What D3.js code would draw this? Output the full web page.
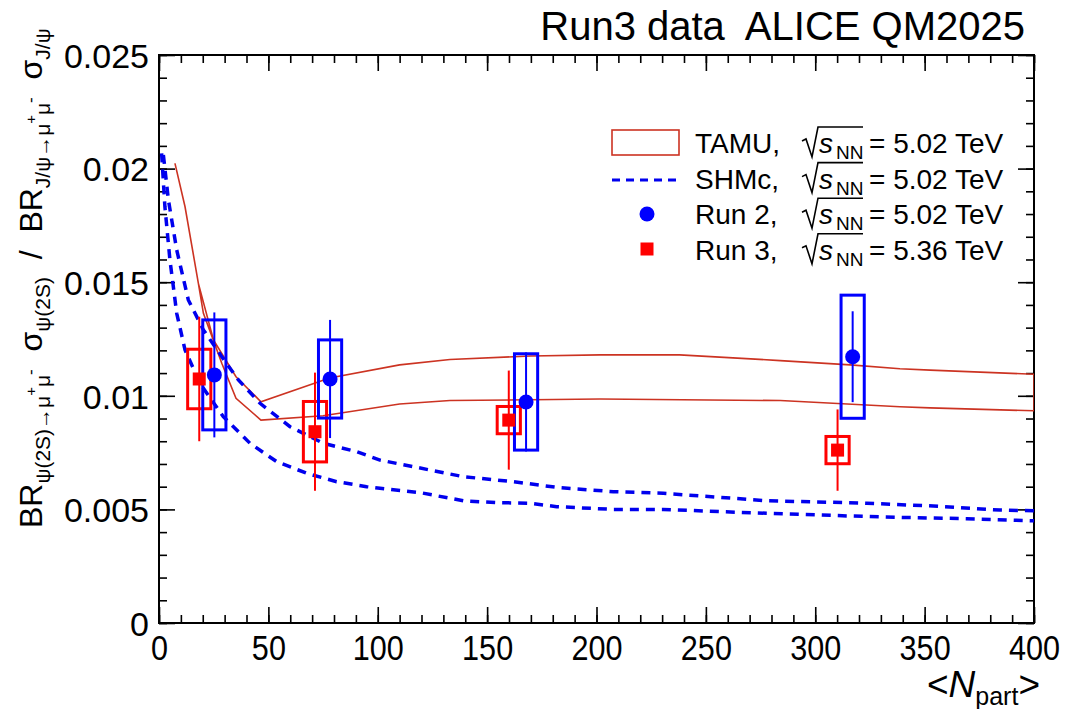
<!DOCTYPE html>
<html lang="en">

<head>
	<meta charset="UTF-8">
	<title>psi(2S) to J/psi ratio vs Npart</title>
	<style type="text/css">
		body { margin: 0; background: #fff; }
		svg text { font-family: "Liberation Sans", Arial, sans-serif; fill: #000; }
	</style>
</head>

<body>
	<div id="chart"></div>

	<script src="https://d3js.org/d3.v7.min.js"></script>
	<script>
		// values
		var npartRun2 = [25.3, 78.2, 167.8, 317.1];
		var ratioRun2 = [0.01092, 0.01074, 0.00973, 0.01172];
		var statRun2 = [0.00275, 0.0026, 0.00218, 0.002];
		var systRun2 = [0.00242, 0.00172, 0.00212, 0.00271];

		var npartRun3 = [18.4, 71.3, 159.9, 310.2];
		var ratioRun3 = [0.01074, 0.00842, 0.00893, 0.00761];
		var statRun3 = [0.00274, 0.0026, 0.00218, 0.00179];
		var systRun3 = [0.00131, 0.00133, 0.0006, 0.0006];

		// TAMU band edges
		var tamuHighNpart = [7.3, 11.9, 18.0, 24.9, 35.2, 46.6, 78, 110, 133, 170, 201.6, 238, 284, 316, 338.7, 352.5, 400];
		var tamuHigh = [0.02023, 0.01832, 0.01495, 0.01246, 0.01084, 0.00974, 0.01078, 0.01136, 0.0116, 0.01175, 0.0118, 0.0118, 0.01155, 0.01136, 0.01119, 0.01113, 0.01095];
		var tamuLowNpart = [7.3, 11.9, 18.0, 20.3, 28.7, 35.2, 46.6, 75, 110, 133, 201.6, 284, 338.7, 352.5, 400];
		var tamuLow = [0.02023, 0.01832, 0.01495, 0.01363, 0.01143, 0.00989, 0.00893, 0.00912, 0.00964, 0.00979, 0.00986, 0.00979, 0.00952, 0.00947, 0.00934];

		// SHMc edges
		var shmcHighNpart = [2.0, 4.3, 8.1, 13.4, 20.3, 28.7, 36.3, 46.2, 59.9, 75.1, 90.4, 101, 116.3, 139.1, 162, 181.8, 207.7, 230.5, 256.5, 277.8, 308.3, 323.5, 354, 384.5, 400];
		var shmcHigh = [0.0206, 0.01862, 0.01642, 0.01422, 0.0129, 0.01172, 0.0107, 0.00967, 0.00864, 0.00791, 0.00754, 0.00717, 0.00688, 0.00644, 0.00622, 0.00597, 0.00578, 0.00571, 0.00553, 0.00538, 0.00531, 0.00527, 0.00515, 0.00497, 0.00494];
		var shmcLowNpart = [1.2, 2.7, 5.0, 8.1, 11.9, 18.7, 29.4, 41.6, 53.8, 67.5, 81.2, 94.9, 101, 119.3, 139.1, 154.4, 169.6, 181.8, 207.7, 230.5, 256.5, 277.8, 315.9, 338.7, 369.2, 400];
		var shmcLow = [0.02067, 0.01832, 0.01598, 0.01363, 0.01202, 0.01055, 0.00908, 0.00791, 0.0071, 0.00659, 0.00622, 0.006, 0.00593, 0.00574, 0.00538, 0.0053, 0.00527, 0.00512, 0.005, 0.005, 0.0049, 0.00483, 0.00471, 0.00465, 0.00459, 0.0045];

		var xTicks = [0, 50, 100, 150, 200, 250, 300, 350, 400];
		var yTicks = [0, 0.005, 0.01, 0.015, 0.02, 0.025];
		var yTickLabels = ['0', '0.005', '0.01', '0.015', '0.02', '0.025'];

		var legendNames = ['TAMU,', 'SHMc,', 'Run 2,', 'Run 3,'];
		var legendEnergies = ['5.02', '5.02', '5.02', '5.36'];

		var margin = { top: 55, right: 31, bottom: 86, left: 159 };
		var width = 1065 - margin.left - margin.right;
		var height = 709 - margin.top - margin.bottom;
		var boxHalf = 5.3; // syst box half width in Npart units

		var xScale = d3.scaleLinear()
			.domain([0, 400])
			.range([0, width]);

		var yScale = d3.scaleLinear()
			.domain([0, 0.025])
			.range([height, 0]);

		var root = d3.select('#chart')
			.append('svg')
			.attr('width', 1065)
			.attr('height', 709);

		var svg = root.append('g')
			.attr('transform', `translate(${margin.left}, ${margin.top})`);

		svg.append('clipPath')
			.attr('id', 'frame')
			.append('rect')
			.attr('width', width)
			.attr('height', height);

		// axes, ROOT style ticks inside the frame
		function ticks(g, axis, size) {
			g.call(axis.tickSize(size).tickSizeOuter(0));
			g.select('.domain').remove();
			g.selectAll('line').attr('stroke', '#000').attr('stroke-width', 1.6);
		}

		svg.append('g')
			.attr('transform', `translate(0, ${height})`)
			.call(ticks, d3.axisBottom(xScale).tickValues(d3.range(0, 401, 10)).tickFormat(''), -8);
		svg.append('g')
			.attr('class', 'x axis')
			.attr('transform', `translate(0, ${height})`)
			.call(ticks, d3.axisBottom(xScale).tickValues(xTicks).tickFormat(d3.format('d')).tickPadding(11), -16);
		svg.append('g')
			.call(ticks, d3.axisTop(xScale).tickValues(d3.range(0, 401, 10)).tickFormat(''), -8);
		svg.append('g')
			.call(ticks, d3.axisTop(xScale).tickValues(xTicks).tickFormat(''), -16);

		svg.append('g')
			.call(ticks, d3.axisLeft(yScale).tickValues(d3.range(0, 26).map(i => i / 1000)).tickFormat(''), -8);
		svg.append('g')
			.attr('class', 'y axis')
			.call(ticks, d3.axisLeft(yScale).tickValues(yTicks).tickFormat((d, i) => yTickLabels[i]).tickPadding(10), -16);
		svg.append('g')
			.attr('transform', `translate(${width}, 0)`)
			.call(ticks, d3.axisRight(yScale).tickValues(d3.range(0, 26).map(i => i / 1000)).tickFormat(''), -8);
		svg.append('g')
			.attr('transform', `translate(${width}, 0)`)
			.call(ticks, d3.axisRight(yScale).tickValues(yTicks).tickFormat(''), -16);

		// x tick labels in the figure are narrow
		svg.selectAll('.x.axis text')
			.attr('font-family', null)
			.attr('transform', 'scale(0.85, 1)')
			.style('font-size', '36px');
		svg.selectAll('.y.axis text')
			.attr('font-family', null)
			.attr('dy', '0.36em')
			.style('font-size', '34px');

		svg.append('rect')
			.attr('width', width)
			.attr('height', height)
			.attr('fill', 'none')
			.attr('stroke', '#000')
			.attr('stroke-width', 2);

		var lineGen = d3.line()
			.x((d) => xScale(d[0]))
			.y((d) => yScale(d[1]));

		var plot = svg.append('g').attr('clip-path', 'url(#frame)');

		// TAMU band as closed outline
		var band = d3.zip(tamuHighNpart, tamuHigh).concat(d3.zip(tamuLowNpart, tamuLow).reverse());
		plot.append('path')
			.attr('d', lineGen(band) + 'Z')
			.attr('fill', 'none')
			.attr('stroke', '#cc3322')
			.attr('stroke-width', 1.6);

		[[shmcHighNpart, shmcHigh], [shmcLowNpart, shmcLow]].forEach((c) => {
			plot.append('path')
				.datum(d3.zip(c[0], c[1]))
				.attr('d', lineGen)
				.attr('fill', 'none')
				.attr('stroke', '#0000ee')
				.attr('stroke-width', 3.5)
				.style('stroke-dasharray', '9,7');
		});

		// data points with stat bars and syst boxes
		function drawSet(npart, ratio, stat, syst, color) {
			npart.forEach((n, i) => {
				var v = ratio[i];
				plot.append('line')
					.attr('x1', xScale(n)).attr('x2', xScale(n))
					.attr('y1', yScale(v - stat[i])).attr('y2', yScale(v + stat[i]))
					.attr('stroke', color)
					.attr('stroke-width', 2);
				plot.append('rect')
					.attr('x', xScale(n - boxHalf))
					.attr('width', xScale(n + boxHalf) - xScale(n - boxHalf))
					.attr('y', yScale(v + syst[i]))
					.attr('height', yScale(v - syst[i]) - yScale(v + syst[i]))
					.attr('fill', 'none')
					.attr('stroke', color)
					.attr('stroke-width', 3);
			});
		}
		drawSet(npartRun3, ratioRun3, statRun3, systRun3, '#ff0000');
		drawSet(npartRun2, ratioRun2, statRun2, systRun2, '#0000ff');

		plot.selectAll('.run3')
			.data(d3.zip(npartRun3, ratioRun3))
			.join('rect')
			.attr('class', 'run3')
			.attr('x', (d) => xScale(d[0]) - 6.5)
			.attr('y', (d) => yScale(d[1]) - 6.5)
			.attr('width', 13)
			.attr('height', 13)
			.attr('fill', '#ff0000');

		plot.selectAll('.run2')
			.data(d3.zip(npartRun2, ratioRun2))
			.join('circle')
			.attr('class', 'run2')
			.attr('cx', (d) => xScale(d[0]))
			.attr('cy', (d) => yScale(d[1]))
			.attr('r', 7.5)
			.attr('fill', '#0000ff');

		// legend
		var legend = root.append('g');
		legend.append('rect')
			.attr('x', 612).attr('y', 130).attr('width', 67).attr('height', 25)
			.attr('fill', 'none').attr('stroke', '#cc3322').attr('stroke-width', 1.6);
		legend.append('line')
			.attr('x1', 612).attr('x2', 678).attr('y1', 180).attr('y2', 180)
			.attr('stroke', '#0000ee').attr('stroke-width', 3).style('stroke-dasharray', '8,6');
		legend.append('circle')
			.attr('cx', 647).attr('cy', 214).attr('r', 7.5).attr('fill', '#0000ff');
		legend.append('rect')
			.attr('x', 640.5).attr('y', 242.5).attr('width', 13).attr('height', 13).attr('fill', '#ff0000');

		legendNames.forEach((name, i) => {
			var b = 153 + i * 35.6;
			legend.append('text')
				.attr('x', 695).attr('y', b)
				.style('font-size', '28px')
				.text(name);
			legend.append('path')
				.attr('d', `M802,${b - 12}L806,${b - 14}L812,${b + 4}L818,${b - 26}L863,${b - 26}`)
				.attr('fill', 'none').attr('stroke', '#000').attr('stroke-width', 1.6);
			legend.append('text')
				.attr('x', 819).attr('y', b)
				.style('font-size', '28px')
				.style('font-style', 'italic')
				.text('s');
			legend.append('text')
				.attr('x', 836).attr('y', b + 6)
				.style('font-size', '19px')
				.text('NN');
			legend.append('text')
				.attr('x', 869).attr('y', b)
				.style('font-size', '28px')
				.text('= ' + legendEnergies[i] + ' TeV');
		});

		// titles
		root.append('text')
			.attr('x', 1025).attr('y', 40)
			.attr('text-anchor', 'end')
			.style('font-size', '40px')
			.style('white-space', 'pre')
			.text('Run3 data  ALICE QM2025');

		var xt = root.append('text')
			.attr('x', 1040).attr('y', 697)
			.attr('text-anchor', 'end')
			.style('font-size', '37px');
		xt.append('tspan').text('<');
		xt.append('tspan').style('font-style', 'italic').text('N');
		xt.append('tspan').attr('dy', 8).style('font-size', '25px').text('part');
		xt.append('tspan').attr('dy', -8).text('>');

		var yt = root.append('text')
			.attr('transform', 'translate(42, 528) rotate(-90)')
			.style('font-size', '32px')
			.style('white-space', 'pre');
		var parts = [
			['BR', 0, 32], ['ψ(2S)→μ', 8, 21], ['+', -14, 15], ['μ', 14, 21], ['-', -14, 17],
			['  σ', 6, 32], ['ψ(2S)', 8, 21], ['  /  BR', -8, 32], ['J/ψ→μ', 8, 21], ['+', -14, 15],
			['μ', 14, 21], ['-', -14, 17], ['  σ', 6, 32], ['J/ψ', 8, 21]
		];
		parts.forEach((p) => {
			yt.append('tspan')
				.attr('dy', p[1])
				.style('font-size', p[2] + 'px')
				.text(p[0]);
		});
	</script>
</body>

</html>
